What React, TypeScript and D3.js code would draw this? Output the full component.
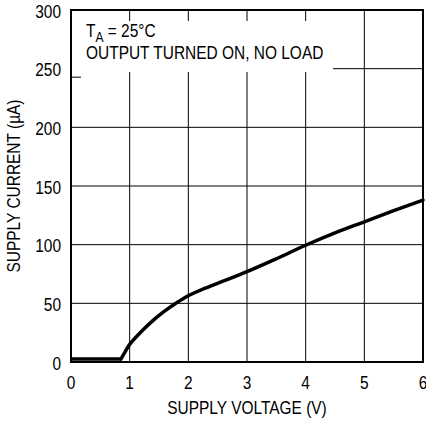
import React from "react";
import * as d3 from "d3";

const voltage = [0, 0.85, 0.92, 1.0, 1.2, 1.4, 1.6, 1.8, 2.0, 2.2, 2.5, 3.0, 3.5, 4.0, 4.5, 5.0, 5.5, 6.0];
const current = [2.5, 2.5, 8.5, 15, 26, 35.5, 43.5, 50.5, 56.5, 61, 67, 77, 88, 99.5, 110, 119.5, 129, 138];
const xTicks = [0, 1, 2, 3, 4, 5, 6];
const yTicks = [0, 50, 100, 150, 200, 250, 300];
const xTitle = "SUPPLY VOLTAGE (V)";
const yTitle = "SUPPLY CURRENT (µA)";
const noteLine2 = "OUTPUT TURNED ON, NO LOAD";

const W = 426;
const H = 421;
const left = 71;
const right = 423;
const top = 10;
const bottom = 362;
const FONT = "'Liberation Sans', Arial, sans-serif";
const FS = 18;
const SX = 0.86;

function T(props: {
  x: number;
  y: number;
  anchor?: "start" | "middle" | "end";
  rotate?: number;
  children: React.ReactNode;
}) {
  const { x, y, anchor = "start", rotate = 0, children } = props;
  return (
    <text
      transform={`translate(${x},${y}) rotate(${rotate}) scale(${SX},1)`}
      fontSize={FS}
      textAnchor={anchor}
      fill="#000"
    >
      {children}
    </text>
  );
}

export default function App() {
  const x = d3.scaleLinear().domain([0, 6]).range([left, right]);
  const y = d3.scaleLinear().domain([0, 300]).range([bottom, top]);
  const pts: [number, number][] = voltage.map((v, i) => [v, current[i]]);
  const flat = pts.slice(0, 2);
  const rise = pts.slice(1);
  const linear = d3
    .line<[number, number]>()
    .x((d) => x(d[0]))
    .y((d) => y(d[1]));
  const smooth = d3
    .line<[number, number]>()
    .x((d) => x(d[0]))
    .y((d) => y(d[1]))
    .curve(d3.curveCatmullRom.alpha(0.5));

  return (
    <svg
      width={W}
      height={H}
      style={{ position: "absolute", left: 0, top: 0, background: "#fff" }}
      fontFamily={FONT}
    >
      <rect x={0} y={0} width={W} height={H} fill="#fff" />
      {/* grid */}
      {xTicks.slice(1, -1).map((t) => (
        <line key={"gx" + t} x1={x(t)} x2={x(t)} y1={top} y2={bottom} stroke="#000" strokeWidth={1} />
      ))}
      {yTicks.slice(1, -1).map((t) => (
        <line key={"gy" + t} x1={left} x2={right} y1={y(t)} y2={y(t)} stroke="#000" strokeWidth={1} />
      ))}
      {/* annotation box */}
      <rect x={left + 1} y={21} width={333 - left - 1} height={51} fill="#fff" />
      <line x1={left} x2={left + 10} y1={y(250) + 8.5} y2={y(250) + 8.5} stroke="#000" strokeWidth={1} />
      <T x={86} y={37}>
        T<tspan fontSize={14} dy={4.5}>A</tspan>
        <tspan dy={-4.5}> = 25°C</tspan>
      </T>
      <T x={86} y={59}>
        {noteLine2}
      </T>
      {/* curve */}
      <path d={linear(flat) || ""} fill="none" stroke="#000" strokeWidth={3.5} strokeLinejoin="round" />
      <path d={smooth(rise) || ""} fill="none" stroke="#000" strokeWidth={3.5} strokeLinejoin="round" strokeLinecap="round" />
      {/* frame */}
      <rect x={left} y={top} width={right - left} height={bottom - top} fill="none" stroke="#000" strokeWidth={2} />
      {/* tick labels */}
      {xTicks.map((t) => (
        <T key={"tx" + t} x={x(t)} y={389} anchor="middle">
          {t}
        </T>
      ))}
      {yTicks.map((t) => (
        <T key={"ty" + t} x={61} y={y(t) + 7.5} anchor="end">
          {t}
        </T>
      ))}
      <T x={(left + right) / 2} y={414} anchor="middle">
        {xTitle}
      </T>
      <T x={20} y={(top + bottom) / 2} anchor="middle" rotate={-90}>
        {yTitle}
      </T>
    </svg>
  );
}
